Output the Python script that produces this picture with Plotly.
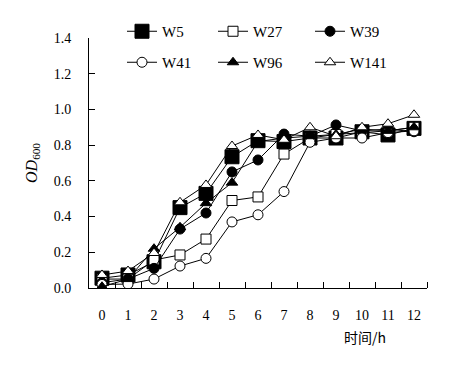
import plotly.graph_objects as go

hours = list(range(13))
hour_labels = [str(h) for h in hours]
W5 = [0.055, 0.073, 0.147, 0.45, 0.53, 0.735, 0.825, 0.82, 0.84, 0.84, 0.875, 0.857, 0.894]
W27 = [0.05, 0.05, 0.157, 0.185, 0.274, 0.49, 0.51, 0.75, 0.84, 0.86, 0.87, 0.88, 0.90]
W39 = [0.03, 0.05, 0.11, 0.33, 0.42, 0.65, 0.717, 0.862, 0.85, 0.913, 0.88, 0.89, 0.875]
W41 = [0.02, 0.022, 0.05, 0.123, 0.166, 0.37, 0.41, 0.54, 0.816, 0.84, 0.84, 0.87, 0.88]
W96 = [0.007, 0.05, 0.22, 0.34, 0.475, 0.59, 0.82, 0.84, 0.85, 0.86, 0.89, 0.88, 0.90]
W141 = [0.073, 0.095, 0.196, 0.48, 0.577, 0.795, 0.857, 0.83, 0.90, 0.85, 0.90, 0.92, 0.97]
y_ticks = [0.0, 0.2, 0.4, 0.6, 0.8, 1.0, 1.2, 1.4]

series = [
    ("W5", W5, "square", 14, "black"),
    ("W27", W27, "square", 10, "white"),
    ("W39", W39, "circle", 10, "black"),
    ("W41", W41, "circle", 10, "white"),
    ("W96", W96, "triangle-up", 10, "black"),
    ("W141", W141, "triangle-up", 10, "white"),
]
legend_x = [114, 205, 302, 114, 205, 302]
legend_y = [7, 7, 7, 38, 38, 38]

FONT = "Liberation Serif"

fig = go.Figure()
legends = {}
for i, (name, vals, sym, size, fill) in enumerate(series):
    lg = "legend" if i == 0 else f"legend{i + 1}"
    fig.add_trace(go.Scatter(
        x=hours, y=vals, name=name, mode="lines+markers",
        line=dict(color="black", width=1),
        marker=dict(symbol=sym, size=size, color=fill,
                    line=dict(color="black", width=1)),
        legend=lg, showlegend=True,
    ))
    legends[lg] = dict(
        orientation="h", xref="container", yref="container",
        xanchor="left", yanchor="top",
        x=legend_x[i] / 453, y=1 - legend_y[i] / 367,
        font=dict(family=FONT, size=15, color="black"),
        bgcolor="rgba(0,0,0,0)", itemclick=False, visible=True,
    )

fig.update_layout(
    width=453, height=367, showlegend=True,
    margin=dict(l=81, r=34, t=30, b=87, autoexpand=False),
    paper_bgcolor="white", plot_bgcolor="white",
    font=dict(family=FONT, size=14, color="black"),
    xaxis=dict(
        range=[-0.5, 12.5], tickvals=hours, ticktext=hour_labels,
        ticks="", showgrid=False, zeroline=False,
        showline=True, linecolor="black", linewidth=1,
        ticklabelstandoff=14,
        tickfont=dict(family=FONT, size=14, color="black"),
        minor=dict(tickvals=[h + 0.5 for h in hours], ticks="inside",
                   ticklen=6, tickcolor="black", showgrid=False),
    ),
    yaxis=dict(
        range=[0, 1.4], tickvals=y_ticks,
        ticktext=[f"{v:.1f}" for v in y_ticks],
        ticks="inside", ticklen=6, tickcolor="black",
        showgrid=False, zeroline=False,
        showline=True, linecolor="black", linewidth=1,
        ticklabelstandoff=14,
        tickfont=dict(family=FONT, size=14, color="black"),
        title=dict(text="<i>OD</i><sub>600</sub>", standoff=12,
                   font=dict(family=FONT, size=16, color="black")),
    ),
    annotations=[dict(
        text="时间/h", xref="paper", yref="paper", x=(365 - 89) / 338,
        y=-49 / 250, xanchor="center", yanchor="middle", showarrow=False,
        font=dict(family="Noto Sans CJK SC", size=14, color="black"),
    )],
)
fig.update_layout(**legends)

fig.write_html("out.html")
